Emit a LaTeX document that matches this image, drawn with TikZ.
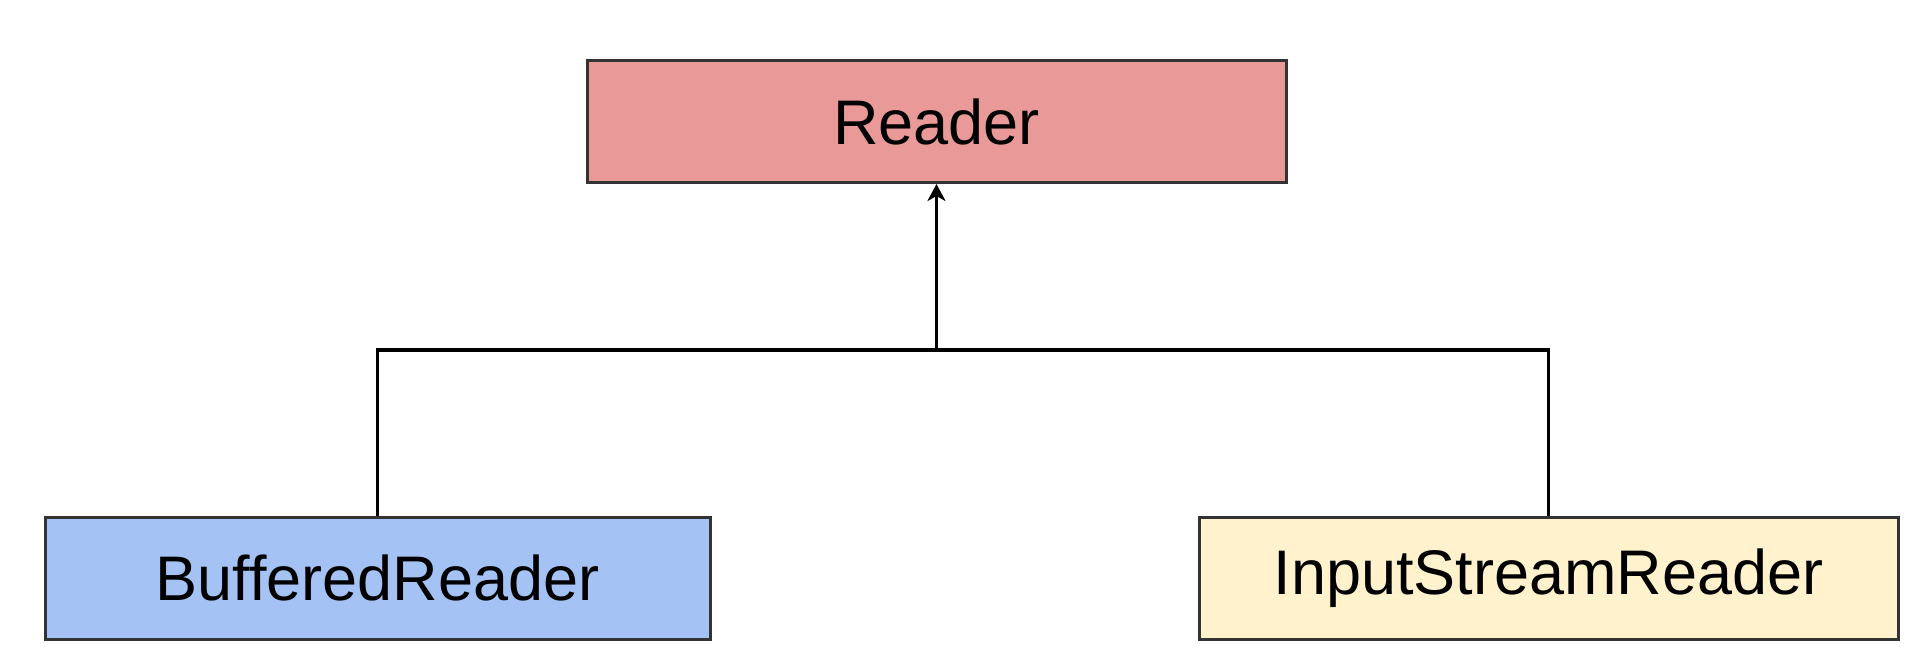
\documentclass[tikz,border=0pt]{standalone}
\usepackage{fontspec}
\setmainfont{Liberation Sans}
\usetikzlibrary{arrows.meta}
\definecolor{redfill}{HTML}{EA9999}
\definecolor{bluefill}{HTML}{A4C2F4}
\definecolor{yellowfill}{HTML}{FFF2CC}
\definecolor{edgegray}{HTML}{333333}
\tikzset{
  cls/.style={draw=edgegray, line width=3pt, rectangle, inner sep=0pt,
    minimum height=122pt, font=\fontsize{63pt}{70pt}\selectfont, text=black},
  link/.style={draw=black, line width=3.2pt},
  inh/.style={link, -{Stealth[length=17pt,width=18pt,inset=5pt]}}
}
\newcommand{\lowertext}[1]{\raisebox{-4pt}{#1}}
\begin{document}
\begin{tikzpicture}[x=1pt,y=-1pt]
\useasboundingbox (0,0) rectangle (1924,666);
\node[cls, fill=redfill, minimum width=699pt] (R) at (936.5,121.5) {\lowertext{Reader}};
\node[cls, fill=bluefill, minimum width=665pt] (B) at (377.5,578) {\lowertext{BufferedReader}};
\node[cls, fill=yellowfill, minimum width=699pt] (I) at (1548.5,578) {\lowertext{InputStreamReader}};
\coordinate (J) at (936.5,350);
\draw[link] (B.north) |- (J) -| (I.north);
\draw[inh] (J) -- (R.south);
\end{tikzpicture}
\end{document}
